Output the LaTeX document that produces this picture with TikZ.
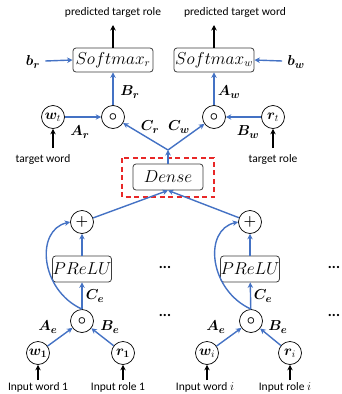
\documentclass[tikz,border=0pt]{standalone}
\usepackage{amsmath,bm}
\usepackage{fontspec}
\setsansfont{Carlito}
\usetikzlibrary{arrows.meta}
\definecolor{arblue}{RGB}{68,114,196}
\definecolor{arred}{RGB}{232,40,40}
\definecolor{boxgray}{RGB}{60,60,60}
\begin{document}
\begin{tikzpicture}[x=1pt,y=-1pt,
  txt/.style={font=\sffamily\fontsize{11.5}{13}\selectfont, inner sep=0pt},
  lbl/.style={font=\fontsize{15}{17}\selectfont, inner sep=0pt},
  opc/.style={circle, draw=black, line width=0.7pt, minimum size=23pt, inner sep=0pt, font=\fontsize{14}{16}\selectfont},
  fbox/.style={draw=boxgray, line width=0.8pt, rounded corners=3pt, inner sep=0pt, font=\fontsize{16}{18}\selectfont},
  barr/.style={draw=arblue, line width=1.4pt, -{Stealth[length=5.5pt,width=5.5pt]}},
  karr/.style={draw=black, line width=1.6pt, -{Stealth[length=5.5pt,width=5.5pt]}},
  dts/.style={font=\sffamily\bfseries\fontsize{15}{17}\selectfont, inner sep=0pt}
]
\path[use as bounding box] (0,0) rectangle (342,394);

% top text
\node[txt] (ptr) at (113,12) {predicted target role};
\node[txt] (ptw) at (235,12) {predicted target word};

% softmax boxes
\node[fbox, minimum width=80pt, minimum height=24pt] (smr) at (113,60) {$Softmax_r$};
\node[fbox, minimum width=80pt, minimum height=24pt] (smw) at (214,60) {$Softmax_w$};
\draw[karr] (smr.north) -- (113,25);
\draw[karr] (smw.north) -- (214,25);

% biases
\node[lbl] (br) at (33,62) {$\bm{b}_{\bm{r}}$};
\node[lbl] (bw) at (296,62) {$\bm{b}_{\bm{w}}$};
\draw[barr] (br.east) ++(5,-1) coordinate (brs) (brs) -- (smr.west);
\draw[barr] (bw.west) ++(-5,-1) coordinate (bws) (bws) -- (smw.east);

% top circles
\node[opc] (omr) at (113,117) {$\bm{\circ}$};
\node[opc] (omw) at (214,117) {$\bm{\circ}$};
\node[opc] (wt) at (53,117) {$\bm{w}_t$};
\node[opc] (rt) at (273,117) {$\bm{r}_t$};
\draw[barr] (omr) -- (smr);
\draw[barr] (omw) -- (smw);
\draw[barr] (wt) -- (omr);
\draw[barr] (rt) -- (omw);
\node[lbl] at (130,92) {$\bm{B_r}$};
\node[lbl] at (229,92) {$\bm{A_w}$};
\node[lbl] at (80,132) {$\bm{A_r}$};
\node[lbl] at (248,132) {$\bm{B_w}$};
\node[lbl] at (150,127) {$\bm{C_r}$};
\node[lbl] at (179,127) {$\bm{C_w}$};

\node[txt] (tw) at (43,159) {target word};
\node[txt] (tr) at (273,159) {target role};
\draw[karr] (53,148) coordinate (tws) -- (wt.south);
\draw[karr] (273,148) coordinate (trs) -- (rt.south);

% Dense
\node[fbox, minimum width=70pt, minimum height=26pt] (dense) at (168,177) {$Dense$};
\draw[arred, line width=1.5pt, dash pattern=on 5pt off 3.5pt] (122,158) rectangle (214,197);
\coordinate (j) at (168,150);
\draw[barr] (dense.north) -- (j);
\draw[barr] (j) -- (omr);
\draw[barr] (j) -- (omw);

% plus circles
\node[opc] (p1) at (82,222) {$\bm{+}$};
\node[opc] (pi) at (250,222) {$\bm{+}$};
\draw[barr] (p1) -- (dense.south);
\draw[barr] (pi) -- (dense.south);

% PReLU
\node[fbox, minimum width=52pt, minimum height=26pt] (pr1) at (82,269) {$PReLU$};
\node[fbox, minimum width=52pt, minimum height=26pt] (pri) at (250,269) {$PReLU$};
\draw[barr] (pr1) -- (p1);
\draw[barr] (pri) -- (pi);

% bottom circles
\node[opc] (o1) at (82,321) {$\bm{\circ}$};
\node[opc] (oi) at (251,321) {$\bm{\circ}$};
\draw[barr] (o1) -- (pr1);
\draw[barr] (oi) -- (pri);
\draw[barr] (o1.north) .. controls (40,290) and (35,230) .. (p1.west);
\draw[barr] (oi.north) .. controls (209,290) and (203,230) .. (pi.west);

\node[lbl] at (95,296) {$\bm{C_e}$};
\node[lbl] at (263,296) {$\bm{C_e}$};
\node[lbl] at (48,327) {$\bm{A_e}$};
\node[lbl] at (110,327) {$\bm{B_e}$};
\node[lbl] at (216,327) {$\bm{A_e}$};
\node[lbl] at (278,327) {$\bm{B_e}$};

\node[opc] (w1) at (38,353) {$\bm{w}_{\bm{1}}$};
\node[opc] (r1) at (123,353) {$\bm{r}_{\bm{1}}$};
\node[opc] (wi) at (207,353) {$\bm{w}_i$};
\node[opc] (ri) at (290,353) {$\bm{r}_i$};
\draw[barr] (w1) -- (o1);
\draw[barr] (r1) -- (o1);
\draw[barr] (wi) -- (oi);
\draw[barr] (ri) -- (oi);

\node[txt] (iw1) at (38,387) {Input word 1};
\node[txt] (ir1) at (118,387) {Input role 1};
\node[txt] (iwi) at (205,387) {Input word $i$};
\node[txt] (iri) at (285,387) {Input role $i$};
\draw[karr] (38,380) coordinate (w1s) -- (w1.south);
\draw[karr] (123,380) coordinate (r1s) -- (r1.south);
\draw[karr] (207,380) coordinate (wis) -- (wi.south);
\draw[karr] (290,380) coordinate (ris) -- (ri.south);

% dots
\node[dts] (d1) at (165,267) {...};
\node[dts] (d2) at (165,315) {...};
\node[dts] (d3) at (334,267) {...};
\node[dts] (d4) at (334,315) {...};
\end{tikzpicture}
\end{document}
